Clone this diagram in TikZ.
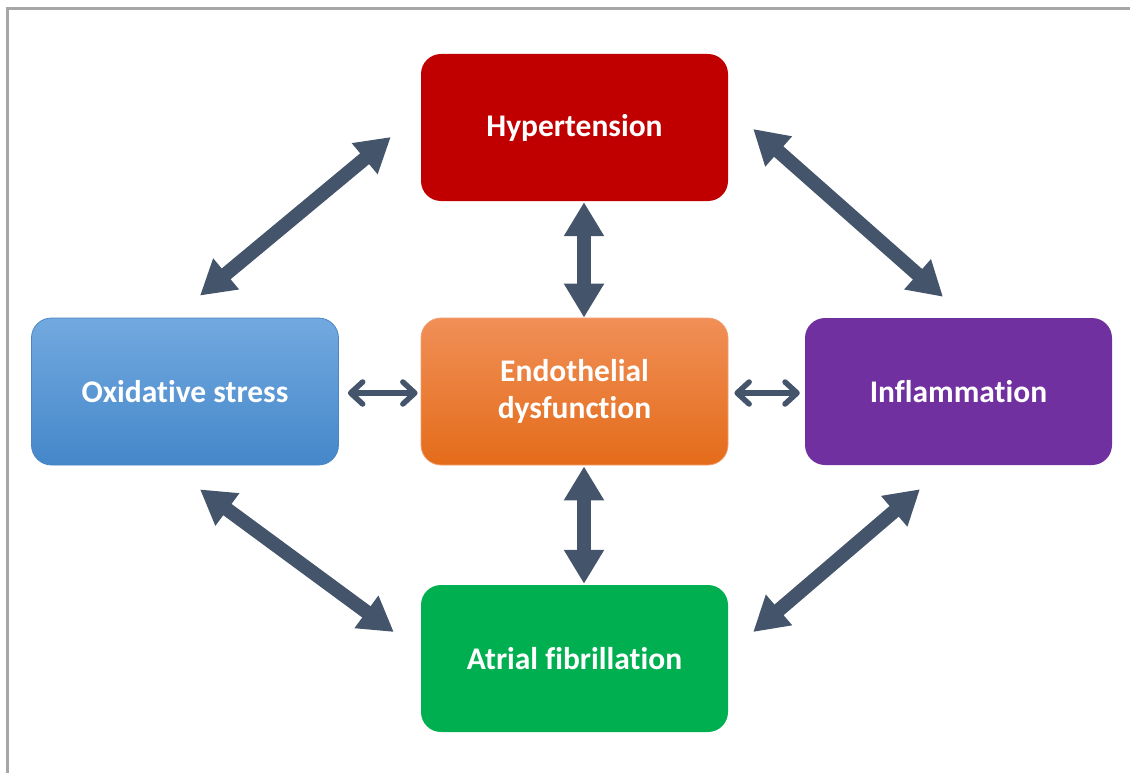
\documentclass[tikz,border=0pt]{standalone}
\usepackage{fontspec}
\setmainfont{Carlito}[Ligatures=NoCommon]
\usetikzlibrary{arrows.meta,calc}
\definecolor{framec}{HTML}{A6A6A6}
\definecolor{arrowc}{HTML}{44546A}
\definecolor{hypc}{HTML}{C00000}
\definecolor{inflc}{HTML}{7030A0}
\definecolor{afc}{HTML}{00B050}
\definecolor{oxtop}{HTML}{72A9DF}
\definecolor{oxbot}{HTML}{4587CA}
\definecolor{oxline}{HTML}{4A86C5}
\definecolor{endotop}{HTML}{F08F57}
\definecolor{endomid}{HTML}{F47D2C}
\definecolor{endobot}{HTML}{E46C1A}
\definecolor{endoline}{HTML}{F2A070}
\tikzset{
  box/.style={rounded corners=20pt, minimum width=307pt, minimum height=147pt,
    inner sep=0pt, text=white, align=center,
    font=\bfseries\fontsize{31.5}{37}\selectfont},
  bigarrow/.style={draw=arrowc, line width=14pt,
    arrows={Triangle[width=38pt,length=34pt]-Triangle[width=38pt,length=34pt]}},
  smallarrow/.style={draw=arrowc, line width=5.5pt, line cap=round,
    arrows={Straight Barb[length=12pt,width=22pt,round]-Straight Barb[length=12pt,width=22pt,round]}}
}
\begin{document}
\begin{tikzpicture}[x=1pt,y=-1pt]
\useasboundingbox (0,0) rectangle (1130,773);
\draw[framec, line width=2.5pt] (7.5,773) -- (7.5,8.5) -- (1130,8.5);

\node[box, fill=hypc] (hyp) at (574.5,127.5) {Hypertension};
\node[box, top color=oxtop, bottom color=oxbot, draw=oxline, line width=0.8pt] (ox) at (185,391.5) {Oxidative stress};
\node[box, top color=endotop, middle color=endomid, bottom color=endobot, draw=endoline, line width=0.8pt] (endo) at (574.5,391.5) {Endothelial\\dysfunction};
\node[box, fill=inflc] (infl) at (958.5,391.5) {Inflammation};
\node[box, fill=afc] (af) at (574.5,658.5) {Atrial fibrillation};

\draw[bigarrow] ($(hyp.west)+(-30,9.5)$) -- ($(ox.north)+(15,-22)$);
\draw[bigarrow] ($(hyp.east)+(25,1.5)$) -- ($(infl.north)+(-15.5,-21)$);
\draw[bigarrow] ($(ox.south)+(15,24)$) -- ($(af.west)+(-27,-26.5)$);
\draw[bigarrow] ($(infl.south)+(-38.5,24)$) -- ($(af.east)+(25,-26.5)$);
\draw[bigarrow] ($(hyp.south)+(9.5,1)$) -- ($(endo.north)+(9.5,0)$);
\draw[bigarrow] ($(endo.south)+(9.5,1)$) -- ($(af.north)+(9.5,-1)$);

\draw[smallarrow] ($(ox.east)+(9,1.5)$) -- ($(endo.west)+(-3,1.5)$);
\draw[smallarrow] ($(endo.east)+(6,1.5)$) -- ($(infl.west)+(-5,1.5)$);
\end{tikzpicture}
\end{document}
